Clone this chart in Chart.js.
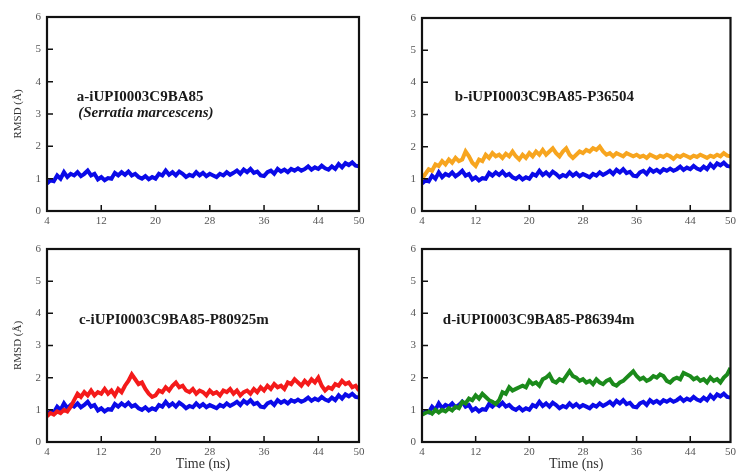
<!DOCTYPE html>
<html>
<head>
<meta charset="utf-8">
<script src="https://cdn.jsdelivr.net/npm/chart.js@4"></script>
<style>
  body { margin: 0; background: #fff; }
  #wrap { position: relative; width: 740px; height: 475px; }
  .panel { position: absolute; }
</style>
</head>
<body>
<div id="wrap">
  <div class="panel" style="left:0;top:0;width:370px;height:235px"><canvas id="panelA"></canvas></div>
  <div class="panel" style="left:370px;top:0;width:370px;height:235px"><canvas id="panelB"></canvas></div>
  <div class="panel" style="left:0;top:235px;width:370px;height:240px"><canvas id="panelC"></canvas></div>
  <div class="panel" style="left:370px;top:235px;width:370px;height:240px"><canvas id="panelD"></canvas></div>
</div>
<script>
// Sample times (ns)
const times = [
  4, 4.5, 5, 5.5, 6, 6.5, 7, 7.5, 8, 8.5,
  9, 9.5, 10, 10.5, 11, 11.5, 12, 12.5, 13, 13.5,
  14, 14.5, 15, 15.5, 16, 16.5, 17, 17.5, 18, 18.5,
  19, 19.5, 20, 20.5, 21, 21.5, 22, 22.5, 23, 23.5,
  24, 24.5, 25, 25.5, 26, 26.5, 27, 27.5, 28, 28.5,
  29, 29.5, 30, 30.5, 31, 31.5, 32, 32.5, 33, 33.5,
  34, 34.5, 35, 35.5, 36, 36.5, 37, 37.5, 38, 38.5,
  39, 39.5, 40, 40.5, 41, 41.5, 42, 42.5, 43, 43.5,
  44, 44.5, 45, 45.5, 46, 46.5, 47, 47.5, 48, 48.5,
  49, 49.5, 50
];

// RMSD (Å) for the reference protein (blue, same in every panel)
const rmsdRef = [
  0.85, 0.95, 0.92, 1.10, 1.00, 1.20, 1.05, 1.15, 1.10, 1.20,
  1.08, 1.15, 1.25, 1.10, 1.15, 0.98, 1.05, 0.95, 1.02, 1.00,
  1.18, 1.10, 1.20, 1.12, 1.22, 1.10, 1.15, 1.05, 1.00, 1.08,
  0.98, 1.05, 1.00, 1.15, 1.10, 1.25, 1.12, 1.20, 1.10, 1.22,
  1.15, 1.05, 1.12, 1.08, 1.20, 1.10, 1.18, 1.08, 1.15, 1.10,
  1.05, 1.15, 1.10, 1.20, 1.12, 1.18, 1.25, 1.15, 1.28, 1.20,
  1.30, 1.18, 1.22, 1.10, 1.08, 1.20, 1.25, 1.15, 1.30, 1.22,
  1.28, 1.20, 1.30, 1.25, 1.32, 1.25, 1.30, 1.38, 1.28, 1.35,
  1.30, 1.40, 1.32, 1.28, 1.38, 1.30, 1.45, 1.35, 1.48, 1.42,
  1.50, 1.40, 1.38
];

// complex with P36504 (orange)
const rmsdB = [
  1.00, 1.15, 1.30, 1.25, 1.45, 1.40, 1.55, 1.45, 1.60, 1.50,
  1.65, 1.55, 1.60, 1.85, 1.70, 1.50, 1.40, 1.60, 1.55, 1.75,
  1.65, 1.80, 1.70, 1.75, 1.65, 1.78, 1.70, 1.85, 1.70, 1.60,
  1.75, 1.65, 1.80, 1.70, 1.85, 1.75, 1.90, 1.75, 1.85, 1.95,
  1.80, 1.70, 1.85, 1.95, 1.75, 1.65, 1.75, 1.85, 1.80, 1.90,
  1.85, 1.95, 1.90, 2.00, 1.85, 1.75, 1.80, 1.70, 1.80, 1.75,
  1.70, 1.80, 1.75, 1.70, 1.75, 1.68, 1.72, 1.65, 1.75, 1.70,
  1.65, 1.72, 1.68, 1.75, 1.70, 1.62, 1.72, 1.68, 1.75, 1.70,
  1.65, 1.72, 1.68, 1.75, 1.70, 1.65, 1.72, 1.68, 1.75, 1.70,
  1.80, 1.72, 1.70
];

// complex with P80925m (red)
const rmsdC = [
  0.80, 0.90, 0.85, 0.95, 0.90, 1.00, 0.95, 1.10, 1.30, 1.50,
  1.40, 1.55, 1.45, 1.60, 1.45, 1.55, 1.50, 1.65, 1.50, 1.60,
  1.45, 1.65, 1.55, 1.75, 1.90, 2.10, 1.95, 1.80, 1.85, 1.65,
  1.50, 1.40, 1.45, 1.60, 1.55, 1.70, 1.60, 1.75, 1.85, 1.70,
  1.75, 1.60, 1.55, 1.65, 1.50, 1.60, 1.55, 1.45, 1.60, 1.50,
  1.55, 1.45, 1.60, 1.55, 1.65, 1.50, 1.60, 1.45, 1.55, 1.60,
  1.50, 1.65, 1.55, 1.70, 1.60, 1.75, 1.65, 1.80, 1.70, 1.75,
  1.65, 1.85, 1.80, 1.95, 1.85, 1.75, 1.90, 1.80, 1.95, 1.85,
  2.00, 1.75, 1.60, 1.70, 1.65, 1.80, 1.75, 1.90, 1.80, 1.85,
  1.70, 1.75, 1.60
];

// complex with P86394m (green)
const rmsdD = [
  0.85, 0.90, 0.95, 0.88, 1.00, 0.92, 1.00, 0.95, 1.05, 0.98,
  1.10, 1.05, 1.25, 1.20, 1.35, 1.30, 1.45, 1.35, 1.50, 1.40,
  1.30, 1.25, 1.18, 1.30, 1.55, 1.50, 1.70, 1.60, 1.65, 1.70,
  1.75, 1.70, 1.90, 1.80, 1.85, 1.75, 1.95, 2.00, 2.10, 1.90,
  1.85, 1.95, 1.90, 2.05, 2.20, 2.05, 2.00, 1.90, 1.95, 1.85,
  1.90, 1.80, 1.95, 1.85, 1.80, 1.90, 1.95, 1.80, 1.75, 1.85,
  1.90, 2.00, 2.10, 2.20, 2.05, 1.95, 2.00, 1.90, 1.95, 2.05,
  2.00, 2.10, 2.05, 1.90, 1.85, 1.95, 2.00, 1.95, 2.15, 2.10,
  2.05, 1.95, 2.00, 1.90, 1.95, 1.85, 2.00, 1.90, 1.95, 1.85,
  2.00, 2.10, 2.30
];

const xTicks = [4, 12, 20, 28, 36, 44, 50];
const yTicks = [0, 1, 2, 3, 4, 5, 6];

const colors = {
  ref: '#0a0ae8',
  orange: '#f7a51f',
  red: '#f41a1a',
  green: '#1b8a1b'
};

const serif = "'Liberation Serif', 'DejaVu Serif', serif";

const points = (vals) => vals.map((v, i) => ({ x: times[i], y: v }));

// Frame and inward tick marks
const framePlugin = {
  id: 'frame',
  afterDatasetsDraw(chart) {
    const { ctx, chartArea: a, scales: { x, y } } = chart;
    ctx.save();
    ctx.strokeStyle = '#111';
    ctx.lineWidth = 1.5;
    ctx.beginPath();
    xTicks.slice(1, -1).forEach(v => {
      const px = x.getPixelForValue(v);
      ctx.moveTo(px, a.bottom);
      ctx.lineTo(px, a.bottom - 6);
    });
    yTicks.slice(1, -1).forEach(v => {
      const py = y.getPixelForValue(v);
      ctx.moveTo(a.left, py);
      ctx.lineTo(a.left + 6, py);
    });
    ctx.stroke();
    ctx.lineWidth = 2.2;
    ctx.strokeRect(a.left, a.top, a.right - a.left, a.bottom - a.top);
    ctx.restore();
  }
};

// Panel labels placed in data coordinates
const labelPlugin = {
  id: 'panelLabel',
  afterDatasetsDraw(chart, args, opts) {
    const { ctx, scales: { x, y } } = chart;
    ctx.save();
    ctx.fillStyle = '#1a1a1a';
    ctx.textBaseline = 'middle';
    (opts.lines || []).forEach(l => {
      ctx.font = (l.italic ? 'italic ' : '') + 'bold 15px ' + serif;
      ctx.fillText(l.text, x.getPixelForValue(l.x), y.getPixelForValue(l.y));
    });
    ctx.restore();
  }
};

const makePanel = (id, series, cfg) => {
  const ctx = document.getElementById(id).getContext('2d');
  const datasets = series.map(s => ({
    data: points(s.values),
    borderColor: s.color,
    borderWidth: 4,
    pointRadius: 0,
    tension: 0,
    fill: false
  }));

  new Chart(ctx, {
    type: 'line',
    data: { datasets },
    options: {
      responsive: true,
      maintainAspectRatio: false,
      animation: false,
      layout: { padding: { left: cfg.padLeft, right: cfg.padRight, top: cfg.padTop, bottom: 0 } },
      plugins: {
        legend: { display: false },
        tooltip: { enabled: false },
        panelLabel: { lines: cfg.lines }
      },
      scales: {
        x: {
          type: 'linear',
          min: 4,
          max: 50,
          afterBuildTicks: s => { s.ticks = xTicks.map(v => ({ value: v })); },
          afterFit: s => { s.height = cfg.xHeight; },
          grid: { display: false, drawTicks: false },
          border: { display: false },
          ticks: { autoSkip: false, maxRotation: 0, padding: 4, color: '#555', font: { family: serif, size: 11 } },
          title: {
            display: cfg.xTitle,
            text: 'Time (ns)',
            color: '#333',
            padding: { top: 0, bottom: 2 },
            font: { family: serif, size: 14 }
          }
        },
        y: {
          min: 0,
          max: 6,
          afterBuildTicks: s => { s.ticks = yTicks.map(v => ({ value: v })); },
          afterFit: s => { s.width = cfg.yWidth; },
          grid: { display: false, drawTicks: false },
          border: { display: false },
          ticks: { autoSkip: false, padding: 6, color: '#555', font: { family: serif, size: 11 } },
          title: {
            display: cfg.yTitle,
            text: 'RMSD (Å)',
            color: '#333',
            padding: 0,
            font: { family: serif, size: 11 }
          }
        }
      }
    },
    plugins: [framePlugin, labelPlugin]
  });
};

document.addEventListener('DOMContentLoaded', () => {
  makePanel('panelA', [{ values: rmsdRef, color: colors.ref }], {
    padLeft: 12, padRight: 11, padTop: 17, yWidth: 35, xHeight: 24, yTitle: true, xTitle: false,
    lines: [
      { text: 'a-iUPI0003C9BA85', x: 8.4, y: 3.53 },
      { text: '(Serratia marcescens)', x: 8.6, y: 3.03, italic: true }
    ]
  });
  makePanel('panelB', [{ values: rmsdB, color: colors.orange }, { values: rmsdRef, color: colors.ref }], {
    padLeft: 0, padRight: 7, padTop: 18, yWidth: 52, xHeight: 24, yTitle: false, xTitle: false,
    lines: [{ text: 'b-iUPI0003C9BA85-P36504', x: 8.9, y: 3.53 }]
  });
  makePanel('panelC', [{ values: rmsdC, color: colors.red }, { values: rmsdRef, color: colors.ref }], {
    padLeft: 12, padRight: 11, padTop: 14, yWidth: 35, xHeight: 33, yTitle: true, xTitle: true,
    lines: [{ text: 'c-iUPI0003C9BA85-P80925m', x: 8.7, y: 3.79 }]
  });
  makePanel('panelD', [{ values: rmsdD, color: colors.green }, { values: rmsdRef, color: colors.ref }], {
    padLeft: 0, padRight: 7, padTop: 14, yWidth: 52, xHeight: 33, yTitle: false, xTitle: true,
    lines: [{ text: 'd-iUPI0003C9BA85-P86394m', x: 7.1, y: 3.79 }]
  });
});
</script>
</body>
</html>
